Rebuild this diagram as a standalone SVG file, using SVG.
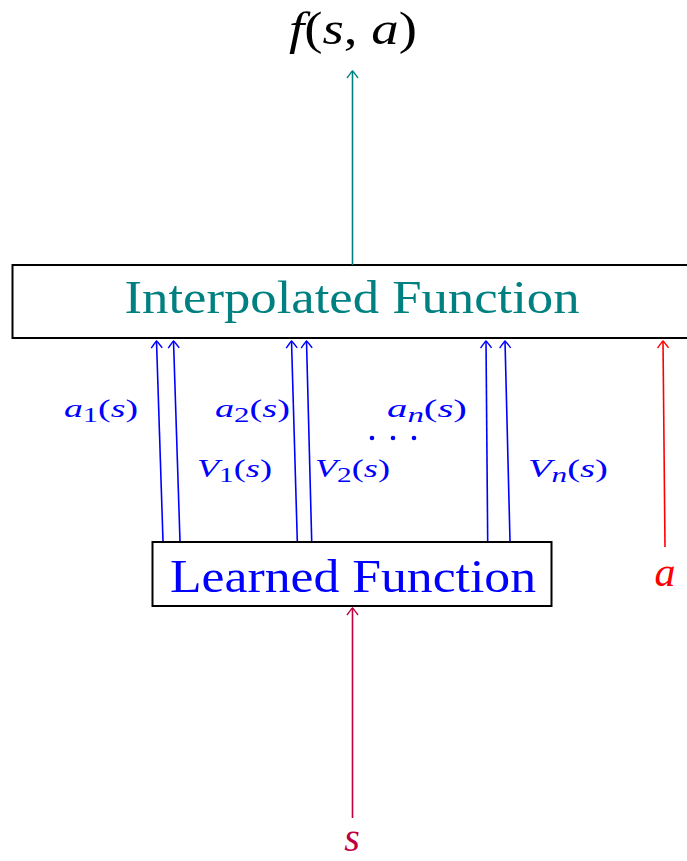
<svg xmlns="http://www.w3.org/2000/svg" width="687" height="861" viewBox="0 0 687 861">
<style>
  .box { fill: #ffffff; stroke: #000000; stroke-width: 2; }
  .math { font-family: "Liberation Serif", "DejaVu Serif", serif; font-style: italic; }
  .rm { font-family: "Liberation Serif", "DejaVu Serif", serif; }
  .lbl { font-family: "Liberation Serif", "DejaVu Serif", serif; font-style: italic; font-size: 26px; fill: #0000ff; }
  .sub { font-style: normal; font-size: 21px; }
  .subi { font-style: italic; font-size: 21px; }
  .up { font-style: normal; }
  .blue { stroke: #0000ff; stroke-width: 1.6; fill: none; marker-end: url(#ab); }
</style>
<defs>
  <marker id="ab" markerUnits="userSpaceOnUse" markerWidth="16" markerHeight="16" refX="0" refY="0" viewBox="-9 -8 12 16" orient="auto" overflow="visible">
    <path d="M-7,-5.5 C-3.5,-3 -1,-1 0,0 C-1,1 -3.5,3 -7,5.5" fill="none" stroke="#0000ff" stroke-width="1.4"/>
  </marker>
  <marker id="at" markerUnits="userSpaceOnUse" markerWidth="16" markerHeight="16" refX="0" refY="0" viewBox="-9 -8 12 16" orient="auto" overflow="visible">
    <path d="M-7,-5.5 C-3.5,-3 -1,-1 0,0 C-1,1 -3.5,3 -7,5.5" fill="none" stroke="#008080" stroke-width="1.4"/>
  </marker>
  <marker id="ar" markerUnits="userSpaceOnUse" markerWidth="16" markerHeight="16" refX="0" refY="0" viewBox="-9 -8 12 16" orient="auto" overflow="visible">
    <path d="M-7,-5.5 C-3.5,-3 -1,-1 0,0 C-1,1 -3.5,3 -7,5.5" fill="none" stroke="#ff0000" stroke-width="1.4"/>
  </marker>
  <marker id="ap" markerUnits="userSpaceOnUse" markerWidth="16" markerHeight="16" refX="0" refY="0" viewBox="-9 -8 12 16" orient="auto" overflow="visible">
    <path d="M-7,-5.5 C-3.5,-3 -1,-1 0,0 C-1,1 -3.5,3 -7,5.5" fill="none" stroke="#bf0040" stroke-width="1.4"/>
  </marker>
</defs>

<g id="output">
  <text class="math" x="353" y="44" font-size="46" text-anchor="middle" fill="#000000" textLength="128" lengthAdjust="spacingAndGlyphs">f<tspan class="up">(</tspan>s<tspan class="up">, </tspan>a<tspan class="up">)</tspan></text>
</g>

<g id="interpolated">
  <rect class="box" x="12.5" y="265" width="690" height="73"/>
  <text class="rm" x="352" y="313" font-size="46" text-anchor="middle" fill="#008080" textLength="455" lengthAdjust="spacingAndGlyphs">Interpolated Function</text>
</g>

<g id="learned">
  <rect class="box" x="152.5" y="542" width="399" height="64"/>
  <text class="rm" x="353" y="592" font-size="46" text-anchor="middle" fill="#0000ff" textLength="366" lengthAdjust="spacingAndGlyphs">Learned Function</text>
</g>

<g id="input-a">
  <text class="math" x="665" y="586" font-size="42" text-anchor="middle" fill="#ff0000">a</text>
</g>

<g id="input-s">
  <text class="math" x="352" y="851" font-size="40" text-anchor="middle" fill="#bf0040">s</text>
</g>

<g id="labels">
  <text class="lbl" x="64" y="417" textLength="74" lengthAdjust="spacingAndGlyphs">a<tspan class="sub" dy="5">1</tspan><tspan class="up" dy="-5">(</tspan>s<tspan class="up">)</tspan></text>
  <text class="lbl" x="215" y="417" textLength="75" lengthAdjust="spacingAndGlyphs">a<tspan class="sub" dy="5">2</tspan><tspan class="up" dy="-5">(</tspan>s<tspan class="up">)</tspan></text>
  <text class="lbl" x="387" y="417" textLength="80" lengthAdjust="spacingAndGlyphs">a<tspan class="subi" dy="5">n</tspan><tspan class="up" dy="-5">(</tspan>s<tspan class="up">)</tspan></text>
  <text class="lbl" x="197" y="477" textLength="75" lengthAdjust="spacingAndGlyphs">V<tspan class="sub" dy="5">1</tspan><tspan class="up" dy="-5">(</tspan>s<tspan class="up">)</tspan></text>
  <text class="lbl" x="315" y="477" textLength="75" lengthAdjust="spacingAndGlyphs">V<tspan class="sub" dy="5">2</tspan><tspan class="up" dy="-5">(</tspan>s<tspan class="up">)</tspan></text>
  <text class="lbl" x="528" y="477" textLength="80" lengthAdjust="spacingAndGlyphs">V<tspan class="subi" dy="5">n</tspan><tspan class="up" dy="-5">(</tspan>s<tspan class="up">)</tspan></text>
  <circle cx="372" cy="438" r="2.3" fill="#0000ff"/>
  <circle cx="393" cy="438" r="2.3" fill="#0000ff"/>
  <circle cx="414" cy="438" r="2.3" fill="#0000ff"/>
</g>

<g id="connectors">
  <line x1="352.5" y1="265" x2="352.5" y2="71" stroke="#008080" stroke-width="1.6" marker-end="url(#at)"/>
  <line class="blue" x1="163" y1="541" x2="156.5" y2="341"/>
  <line class="blue" x1="180" y1="541" x2="173.5" y2="341"/>
  <line class="blue" x1="297.3" y1="541" x2="291.5" y2="341"/>
  <line class="blue" x1="311.7" y1="541" x2="306.5" y2="341"/>
  <line class="blue" x1="487.7" y1="541" x2="486" y2="341"/>
  <line class="blue" x1="510" y1="541" x2="505" y2="341"/>
  <line x1="665" y1="547" x2="663" y2="341" stroke="#ff0000" stroke-width="1.6" marker-end="url(#ar)"/>
  <line x1="352.5" y1="818" x2="352.5" y2="608" stroke="#bf0040" stroke-width="1.6" marker-end="url(#ap)"/>
</g>
</svg>
